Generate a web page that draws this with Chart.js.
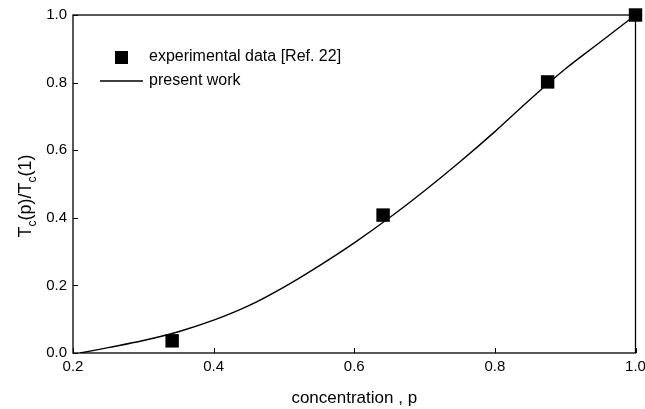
<!DOCTYPE html>
<html lang="en">
<head>
  <meta charset="UTF-8" />
  <title>Tc(p)/Tc(1) vs concentration</title>
  <script src="https://cdn.jsdelivr.net/npm/chart.js"></script>
  <style>
    html, body { margin: 0; padding: 0; background: #fff; }
    #wrap { width: 645px; height: 409px; }
  </style>
</head>
<body>
  <div id="wrap"><canvas id="tcChart" width="645" height="409"></canvas></div>

  <script>
    // experimental data [Ref. 22]
    const expP = [0.341, 0.641, 0.875, 1.0];
    const expT = [0.036, 0.408, 0.802, 1.0];

    // present work curve
    const curveP = [0.21, 0.25, 0.30, 0.35, 0.40, 0.45, 0.50, 0.55, 0.60, 0.65, 0.70, 0.75, 0.80, 0.85, 0.90, 0.95, 1.0];
    const curveT = [0.0, 0.016, 0.037, 0.063, 0.097, 0.14, 0.195, 0.258, 0.326, 0.40, 0.48, 0.565, 0.655, 0.75, 0.84, 0.92, 1.0];

    const xTicks = [0.2, 0.4, 0.6, 0.8, 1.0];
    const yTicks = [0.0, 0.2, 0.4, 0.6, 0.8, 1.0];

    const FONT = 'Arial, "Liberation Sans", sans-serif';

    // box, inward ticks, axis titles and the legend
    const decor = {
      id: 'decor',
      afterDraw(chart) {
        const ctx = chart.ctx;
        const a = chart.chartArea;
        const xs = chart.scales.x, ys = chart.scales.y;
        ctx.save();
        ctx.strokeStyle = '#000';
        ctx.lineWidth = 1.3;
        ctx.strokeRect(a.left, a.top, a.right - a.left, a.bottom - a.top);

        ctx.lineWidth = 1;
        ctx.beginPath();
        xTicks.forEach(v => {
          const px = Math.round(xs.getPixelForValue(v)) + 0.5;
          ctx.moveTo(px, a.bottom);
          ctx.lineTo(px, a.bottom - 5);
        });
        yTicks.forEach(v => {
          const py = Math.round(ys.getPixelForValue(v)) + 0.5;
          ctx.moveTo(a.left, py);
          ctx.lineTo(a.left + 5, py);
        });
        ctx.stroke();

        ctx.fillStyle = '#000';
        ctx.font = '17px ' + FONT;
        ctx.textAlign = 'center';
        ctx.textBaseline = 'middle';
        ctx.fillText('concentration , p', (a.left + a.right) / 2, 398);

        // y title with subscripts
        const parts = [['T', 18, 0], ['c', 12, 5], ['(p)/T', 18, 0], ['c', 12, 5], ['(1)', 18, 0]];
        let total = 0;
        parts.forEach(p => { ctx.font = p[1] + 'px ' + FONT; total += ctx.measureText(p[0]).width; });
        ctx.translate(31, 196);
        ctx.rotate(-Math.PI / 2);
        ctx.textAlign = 'left';
        ctx.textBaseline = 'alphabetic';
        let cx = -total / 2;
        parts.forEach(p => {
          ctx.font = p[1] + 'px ' + FONT;
          ctx.fillText(p[0], cx, p[2]);
          cx += ctx.measureText(p[0]).width;
        });
        ctx.setTransform(1, 0, 0, 1, 0, 0);

        // legend
        const ds = chart.data.datasets;
        ctx.fillStyle = ds[0].backgroundColor;
        ctx.fillRect(115, 51, 13, 13);
        ctx.strokeStyle = ds[1].borderColor;
        ctx.lineWidth = ds[1].borderWidth;
        ctx.beginPath();
        ctx.moveTo(100, 81);
        ctx.lineTo(143, 81);
        ctx.stroke();
        ctx.fillStyle = '#000';
        ctx.font = '16px ' + FONT;
        ctx.textBaseline = 'middle';
        ctx.fillText(ds[0].label, 149, 57);
        ctx.fillText(ds[1].label, 149, 81);
        ctx.restore();
      }
    };

    const ctx = document.getElementById('tcChart').getContext('2d');
    new Chart(ctx, {
      type: 'scatter',
      data: {
        datasets: [
          {
            label: 'experimental data [Ref. 22]',
            data: expP.map((p, i) => ({ x: p, y: expT[i] })),
            pointStyle: 'rect',
            pointRadius: 9.5,
            pointHoverRadius: 9.5,
            backgroundColor: '#000',
            borderColor: '#000',
            borderWidth: 0,
            clip: false
          },
          {
            label: 'present work',
            type: 'line',
            data: curveP.map((p, i) => ({ x: p, y: curveT[i] })),
            borderColor: '#000',
            borderWidth: 1.4,
            pointRadius: 0,
            tension: 0.4,
            fill: false
          }
        ]
      },
      options: {
        responsive: false,
        animation: false,
        layout: { padding: { top: 15, right: 8, left: 0, bottom: 0 } },
        plugins: {
          legend: { display: false },
          tooltip: { enabled: false }
        },
        scales: {
          x: {
            type: 'linear',
            min: 0.2,
            max: 1.0,
            afterBuildTicks: s => { s.ticks = xTicks.map(v => ({ value: v })); },
            ticks: {
              color: '#000',
              font: { family: FONT, size: 15 },
              padding: 5,
              maxRotation: 0,
              callback: v => v.toFixed(1)
            },
            grid: { display: false, drawTicks: false },
            border: { display: false },
            afterFit: s => { s.height = 56; s.paddingLeft = 0; s.paddingRight = 0; }
          },
          y: {
            min: 0,
            max: 1.0,
            afterBuildTicks: s => { s.ticks = yTicks.map(v => ({ value: v })); },
            ticks: {
              color: '#000',
              font: { family: FONT, size: 15 },
              padding: 6,
              callback: v => v.toFixed(1)
            },
            grid: { display: false, drawTicks: false },
            border: { display: false },
            afterFit: s => { s.width = 73; s.paddingTop = 0; s.paddingBottom = 0; }
          }
        }
      },
      plugins: [decor]
    });
  </script>
</body>
</html>
